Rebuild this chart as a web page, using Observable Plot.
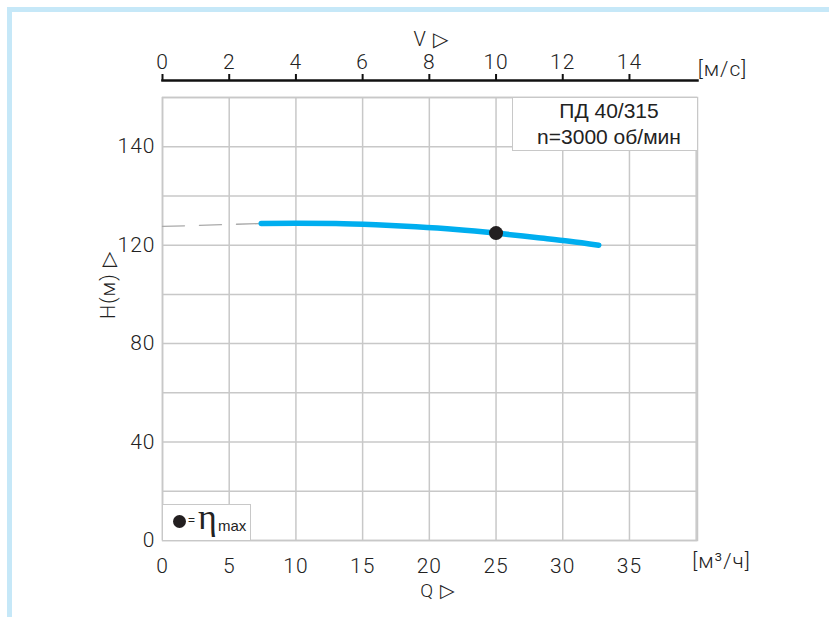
<!DOCTYPE html>
<html>
<head>
<meta charset="utf-8">
<script src="https://cdn.jsdelivr.net/npm/d3@7"></script>
<script src="https://cdn.jsdelivr.net/npm/@observablehq/plot@0.6"></script>
<style>
  html, body { margin: 0; padding: 0; background: #fff; }
  #wrap { position: relative; width: 829px; height: 617px; overflow: hidden; }
  #border { position: absolute; left: 7px; top: 7px; width: 822px; height: 610px;
            border-left: 5px solid #c6e8f8; border-top: 5px solid #c6e8f8; box-sizing: border-box; }
  #chart { position: absolute; left: 0; top: 0; }
  .box { position: absolute; background: #fff; border: 1.5px solid #c8c8c8; box-sizing: border-box; }
  #model { left: 512px; top: 97px; width: 186px; height: 54px; font-family: "Liberation Sans", Arial, sans-serif;
           font-size: 21px; color: #222; text-align: center; line-height: 26px; padding-top: 0px; padding-left: 8px; white-space: nowrap; }
  #leg { left: 162px; top: 504px; width: 89px; height: 37px; font-family: "Liberation Sans", Arial, sans-serif; color: #222; }
  #leg .dot { position: absolute; left: 10px; top: 10px; width: 13px; height: 13px; border-radius: 50%; background: #231f20; }
  #leg .eq { position: absolute; left: 25px; top: 8px; font-size: 12px; }
  #leg .eta { position: absolute; left: 35px; top: -9px; font-family: "Liberation Serif", "DejaVu Serif", serif; font-size: 36px; }
  #leg .max { position: absolute; left: 55px; top: 12px; font-size: 15px; }
</style>
</head>
<body>
<div id="wrap">
  <div id="border"></div>
  <div id="chart"></div>
  <div class="box" id="model">ПД 40/315<br>n=3000 об/мин</div>
  <div class="box" id="leg"><span class="dot"></span><span class="eq">=</span><span class="eta">η</span><span class="max">max</span></div>
</div>
<script>
// Axis ticks
const qTicks = [0, 5, 10, 15, 20, 25, 30, 35];
const vTicks = [0, 2, 4, 6, 8, 10, 12, 14];
const hTicks = [0, 40, 80, 120, 160];
const hTickLabels = ["0", "40", "80", "120", "140"];
const gridQ = [0, 5, 10, 15, 20, 25, 30, 35, 40];
const gridH = [0, 20, 40, 60, 80, 100, 120, 140, 160, 180];
const vPerQ = 1 / 2.5;   // V scale relative to Q scale on the top axis

// H(Q) curve (solid)
const qValues = [7.4, 10, 13, 16, 19, 22, 25, 28, 30.5, 32.7];
const hValues = [128.8, 128.9, 128.8, 128.3, 127.5, 126.4, 124.9, 123.1, 121.6, 120.0];
// Extrapolated (dashed) part
const dashQ = [0, 7.4];
const dashH = [127.6, 128.8];
// Best efficiency point
const bepQ = [25];
const bepH = [124.9];

const curve = qValues.map((q, i) => ({q, h: hValues[i]}));
const dashed = dashQ.map((q, i) => ({q, h: dashH[i]}));
const bep = bepQ.map((q, i) => ({q, h: bepH[i]}));

const font = "Roboto, 'DejaVu Sans', sans-serif";
const fs = 21;

const chart = Plot.plot({
  width: 829,
  height: 617,
  marginLeft: 162,
  marginRight: 132,
  marginTop: 97,
  marginBottom: 77,
  style: {fontFamily: font, fontSize: fs + "px", fontWeight: 300, color: "#222", background: "transparent", letterSpacing: "1px"},
  x: {domain: [0, 40.1]},
  y: {domain: [0, 180]},
  marks: [
    Plot.gridX(gridQ, {stroke: "#c8c8c8", strokeOpacity: 1, strokeWidth: 1.5}),
    Plot.gridY(gridH, {stroke: "#c8c8c8", strokeOpacity: 1, strokeWidth: 1.5}),
    Plot.frame({stroke: "#c8c8c8", strokeWidth: 1.5}),
    Plot.line(dashed, {x: "q", y: "h", stroke: "#aaaaaa", strokeWidth: 1.3, strokeDasharray: "22,15"}),
    Plot.line(curve, {x: "q", y: "h", stroke: "#00aeef", strokeWidth: 5.5, curve: "monotone-x"}),
    Plot.dot(bep, {x: "q", y: "h", r: 7, fill: "#231f20", stroke: "none"}),
    Plot.axisX({anchor: "bottom", ticks: qTicks, tickSize: 0, tickPadding: 18, label: null, fontSize: fs}),
    Plot.axisX({anchor: "top", ticks: vTicks.map(v => v / vPerQ), tickFormat: d => String(Math.round(d * vPerQ)),
                tickSize: 7, tickPadding: 5, dy: -17, stroke: "#111", strokeWidth: 2, label: null, fontSize: fs}),
    Plot.frame({anchor: "top", dy: -17, stroke: "#111", strokeWidth: 2.5}),
    Plot.axisY({ticks: hTicks, tickFormat: (d) => hTickLabels[hTicks.indexOf(d)], tickSize: 0, tickPadding: 7, label: null, fontSize: fs}),
    Plot.text(["V ▷"], {frameAnchor: "top", dx: 1, dy: -66, fontSize: 20}),
    Plot.text(["Q ▷"], {frameAnchor: "bottom", dx: 8, dy: 56, fontSize: 19}),
    Plot.text(["[м/с]"], {frameAnchor: "top-right", textAnchor: "middle", dx: 25, dy: -36, fontSize: fs}),
    Plot.text(["[м³/ч]"], {frameAnchor: "bottom-right", textAnchor: "middle", dx: 24, dy: 27, fontSize: fs}),
    Plot.text(["H(м) ▷"], {frameAnchor: "left", dx: -54, rotate: -90, fontSize: 20})
  ]
});
document.getElementById("chart").appendChild(chart);
</script>
</body>
</html>
